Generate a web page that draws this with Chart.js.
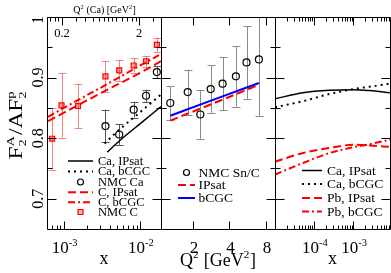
<!DOCTYPE html>
<html>
<head>
<meta charset="utf-8">
<title>F2A / A F2p</title>
<script src="https://cdn.jsdelivr.net/npm/chart.js@4.4.1/dist/chart.umd.min.js"></script>
<style>
  html, body { margin: 0; padding: 0; background: #ffffff; }
  #plot { position: relative; width: 391px; height: 273px; overflow: hidden; }
  #plot canvas { position: absolute; left: 0; top: 0; }
</style>
</head>
<body>
<div id="plot">
  <canvas id="panelX" width="391" height="273"></canvas>
  <canvas id="panelQ" width="391" height="273"></canvas>
  <canvas id="panelLow" width="391" height="273"></canvas>
</div>
<script>
(function () {
    'use strict';

    // ---- left panel: ratio vs x, NMC C and Ca ----
    const cNmcX = [7.0e-4, 9.3e-4, 1.53e-3, 3.5e-3, 5.3e-3, 8.2e-3, 0.0119, 0.0165];
    const cNmcRatio = [0.799, 0.854, 0.853, 0.902, 0.912, 0.920, 0.927, 0.954];
    const cNmcErr = [0.051, 0.053, 0.037, 0.025, 0.017, 0.012, 0.009, 0.012];
    const caNmcX = [3.5e-3, 5.3e-3, 8.2e-3, 0.0119, 0.0165];
    const caNmcRatio = [0.820, 0.806, 0.847, 0.870, 0.909];
    const caNmcErr = [0.027, 0.017, 0.013, 0.010, 0.010];

    const cCurveX = [6.2e-4, 1e-3, 3e-3, 1e-2, 1.87e-2];
    const cIpsat = [0.828, 0.842, 0.874, 0.908, 0.927];
    const cBcgc = [0.835, 0.850, 0.883, 0.920, 0.939];
    const caIpsatX = [3.7e-3, 5.5e-3, 1e-2, 1.87e-2];
    const caIpsat = [0.777, 0.797, 0.824, 0.852];
    const caBcgcX = [3.4e-3, 5e-3, 1e-2, 1.87e-2];
    const caBcgc = [0.791, 0.811, 0.843, 0.872];

    // ---- middle panel: ratio vs Q^2, NMC Sn/C ----
    const snQ2 = [1.30, 1.81, 2.30, 2.80, 3.51, 4.52, 5.53, 7.0];
    const snRatio = [0.858, 0.876, 0.839, 0.881, 0.890, 0.902, 0.925, 0.930];
    const snErr = [0.028, 0.037, 0.040, 0.039, 0.044, 0.050, 0.060, 0.093];
    const snCurveQ2 = [1.3, 3.0, 7.0];
    const snIpsat = [0.829, 0.858, 0.888];
    const snBcgc = [0.837, 0.864, 0.891];

    // ---- right panel: small x predictions, Ca and Pb ----
    const lowX = [1e-5, 5.2e-5, 2.5e-4, 1e-3, 2.6e-3, 8.6e-3];
    const caIpsatLow = [0.865, 0.875, 0.879, 0.880, 0.8785, 0.875];
    const caBcgcLow = [0.851, 0.861, 0.873, 0.881, 0.885, 0.890];
    const pbIpsatLow = [0.761, 0.7755, 0.784, 0.789, 0.788, 0.7855];
    const pbBcgcLow = [0.740, 0.759, 0.7755, 0.785, 0.790, 0.7975];

    // ---- ticks ----
    const yMajor = [0.7, 0.8, 0.9, 1.0];
    const yMinor = [0.75, 0.85, 0.95];
    const yTickText = ['0.7', '0.8', '0.9', '1'];
    const xMajorA = [1e-3, 1e-2];
    const xExpA = ['-3', '-2'];
    const xMinorA = [7e-4, 8e-4, 9e-4, 2e-3, 3e-3, 4e-3, 5e-3, 6e-3, 7e-3, 8e-3, 9e-3];
    const q2TopMajor = [0.2, 2];
    const q2TopText = ['0.2', '2'];
    const q2TopMinor = [0.14, 0.16, 0.18, 0.3, 0.4, 0.5, 0.6, 0.7, 0.8, 0.9, 1.0, 1.2, 1.4, 1.6, 1.8, 3];
    const q2PerX = 206;   // Q^2(Ca) that goes with a given x on the top axis
    const q2Major = [2, 4, 8];
    const q2Text = ['2', '4', '8'];
    const xMajorC = [1e-4, 1e-3];
    const xExpC = ['-4', '-3'];
    const xMinorC = [2e-5, 3e-5, 4e-5, 5e-5, 6e-5, 7e-5, 8e-5, 9e-5,
        2e-4, 3e-4, 4e-4, 5e-4, 6e-4, 7e-4, 8e-4, 9e-4,
        2e-3, 3e-3, 4e-3, 5e-3, 6e-3, 7e-3, 8e-3];

    const W = 391, H = 273;
    const SERIF = '"Liberation Serif", "DejaVu Serif", serif';
    const RED = '#ff0000';

    const solidBlack = { color: '#000000', width: 1.5, dash: [] };
    const dotBlack = { color: '#000000', width: 2, dash: [2, 4] };
    const dashRed = { color: RED, width: 2, dash: [8, 4] };
    const dashDotRed = { color: RED, width: 2, dash: [7, 3, 2, 3] };
    const solidBlue = { color: '#0000ff', width: 2, dash: [] };

    function pts(xs, ys) {
        return xs.map(function (x, i) { return { x: x, y: ys[i] }; });
    }

    function curveSet(label, xs, ys, st) {
        return {
            label: label,
            data: pts(xs, ys),
            showLine: true,
            borderColor: st.color,
            borderWidth: st.width,
            borderDash: st.dash,
            pointRadius: 0,
            fill: false,
            cubicInterpolationMode: 'monotone',
            clip: 0
        };
    }

    function nmcSet(label, xs, ys, errs, style, edge, face, barColor) {
        return {
            label: label,
            data: pts(xs, ys),
            showLine: false,
            pointStyle: style,
            pointRadius: 3.5,
            pointBorderColor: edge,
            pointBackgroundColor: face,
            pointBorderWidth: 1.2,
            errorBars: errs,
            barColor: barColor
        };
    }

    // text with super/subscripts: plain strings, or {sup, sub}
    function segWidth(ctx, s, size) {
        if (typeof s === 'string') {
            ctx.font = size + 'px ' + SERIF;
            return ctx.measureText(s).width;
        }
        ctx.font = (size * 0.62) + 'px ' + SERIF;
        const a = s.sup ? ctx.measureText(s.sup).width : 0;
        const b = s.sub ? ctx.measureText(s.sub).width : 0;
        return Math.max(a, b) + size * 0.04;
    }

    function drawRich(ctx, segs, x, y, size, align) {
        let total = 0;
        segs.forEach(function (s) { total += segWidth(ctx, s, size); });
        let cx = align === 'center' ? x - total / 2 : x;
        ctx.textAlign = 'left';
        ctx.textBaseline = 'alphabetic';
        segs.forEach(function (s) {
            const w = segWidth(ctx, s, size);
            if (typeof s === 'string') {
                ctx.font = size + 'px ' + SERIF;
                ctx.fillText(s, cx, y);
            } else {
                ctx.font = (size * 0.62) + 'px ' + SERIF;
                if (s.sup) ctx.fillText(s.sup, cx, y - size * 0.42);
                if (s.sub) ctx.fillText(s.sub, cx, y + size * 0.24);
            }
            cx += w;
        });
    }

    function drawErrorBars(chart) {
        const ctx = chart.ctx, a = chart.chartArea, ys = chart.scales.y;
        ctx.save();
        ctx.beginPath();
        ctx.rect(a.left, a.top, a.right - a.left, a.bottom - a.top);
        ctx.clip();
        chart.data.datasets.forEach(function (ds, i) {
            if (!ds.errorBars) return;
            const meta = chart.getDatasetMeta(i);
            ctx.strokeStyle = ds.barColor;
            ctx.lineWidth = 1;
            meta.data.forEach(function (pt, j) {
                const v = ds.data[j].y, e = ds.errorBars[j];
                const top = ys.getPixelForValue(v + e), bot = ys.getPixelForValue(v - e);
                const x = Math.round(pt.x) + 0.5;
                ctx.beginPath();
                ctx.moveTo(x, top); ctx.lineTo(x, bot);
                ctx.moveTo(x - 4, Math.round(top) + 0.5); ctx.lineTo(x + 4, Math.round(top) + 0.5);
                ctx.moveTo(x - 4, Math.round(bot) + 0.5); ctx.lineTo(x + 4, Math.round(bot) + 0.5);
                ctx.stroke();
            });
        });
        ctx.restore();
    }

    function drawFrame(chart, cfg) {
        const ctx = chart.ctx, a = chart.chartArea;
        const xs = chart.scales.x, ys = chart.scales.y, ts = chart.scales[cfg.topScale];
        const L = Math.round(a.left) + 0.5, R = Math.round(a.right) + 0.5;
        const T = Math.round(a.top) + 0.5, B = Math.round(a.bottom) + 0.5;
        ctx.save();
        ctx.strokeStyle = '#000000';
        ctx.lineWidth = 1;
        ctx.setLineDash([]);
        ctx.beginPath();
        ctx.rect(L, T, R - L, B - T);
        function xTick(scale, v, len, atTop) {
            const x = Math.round(scale.getPixelForValue(v)) + 0.5;
            if (x <= L || x >= R) return;
            if (atTop) { ctx.moveTo(x, T); ctx.lineTo(x, T + len); }
            else { ctx.moveTo(x, B); ctx.lineTo(x, B - len); }
        }
        function yTick(v, len) {
            const y = Math.round(ys.getPixelForValue(v)) + 0.5;
            ctx.moveTo(L, y); ctx.lineTo(L + len, y);
            ctx.moveTo(R, y); ctx.lineTo(R - len, y);
        }
        cfg.xMajor.forEach(function (v) { xTick(xs, v, 8, false); });
        cfg.xMinor.forEach(function (v) { xTick(xs, v, 4, false); });
        cfg.topMajor.forEach(function (v) { xTick(ts, v, 8, true); });
        cfg.topMinor.forEach(function (v) { xTick(ts, v, 4, true); });
        yMajor.forEach(function (v) { yTick(v, 9); });
        yMinor.forEach(function (v) { yTick(v, 5); });
        ctx.stroke();

        // tick labels and axis title under the panel
        ctx.fillStyle = '#000000';
        cfg.xLabels.forEach(function (lab) {
            drawRich(ctx, lab.segs, xs.getPixelForValue(lab.v) + 1, 253, 17, 'center');
        });
        drawRich(ctx, cfg.title, (a.left + a.right) / 2, cfg.titleY, cfg.titleSize, 'center');
        ctx.restore();
    }

    function drawKey(chart, key) {
        const ctx = chart.ctx;
        ctx.save();
        key.rows.forEach(function (row, i) {
            const y = key.y[i];
            const mid = (key.x0 + key.x1) / 2;
            ctx.setLineDash([]);
            if (row.line) {
                ctx.strokeStyle = row.line.color;
                ctx.lineWidth = row.line.width;
                ctx.setLineDash(row.line.dash);
                ctx.beginPath();
                ctx.moveTo(key.x0, y); ctx.lineTo(key.x1, y);
                ctx.stroke();
            } else if (row.mark === 'circle') {
                ctx.strokeStyle = '#000000';
                ctx.lineWidth = 1.2;
                ctx.beginPath();
                ctx.arc(mid, y, 3, 0, Math.PI * 2);
                ctx.stroke();
            } else {
                ctx.strokeStyle = RED;
                ctx.fillStyle = 'rgba(255,0,0,0.3)';
                ctx.lineWidth = 1.2;
                ctx.beginPath();
                ctx.rect(mid - 2.5, y - 2.5, 5, 5);
                ctx.fill();
                ctx.stroke();
            }
            ctx.fillStyle = '#000000';
            ctx.font = key.size + 'px ' + SERIF;
            ctx.textAlign = 'left';
            ctx.textBaseline = 'middle';
            ctx.fillText(row.label, key.tx, y + 0.5);
        });
        ctx.restore();
    }

    function decor(cfg) {
        return {
            id: 'decor',
            beforeDatasetsDraw: function (chart) { drawErrorBars(chart); },
            afterDraw: function (chart) {
                drawFrame(chart, cfg);
                drawKey(chart, cfg.key);
                if (cfg.extra) cfg.extra(chart);
            }
        };
    }

    function makePanel(canvasId, box, scales, datasets, cfg) {
        const canvas = document.getElementById(canvasId);
        return new Chart(canvas.getContext('2d'), {
            type: 'scatter',
            data: { datasets: datasets },
            options: {
                responsive: false,
                animation: false,
                events: [],
                layout: {
                    padding: { left: box.left, right: W - box.right, top: box.top, bottom: H - box.bottom }
                },
                plugins: {
                    legend: { display: false },
                    tooltip: { enabled: false }
                },
                scales: scales
            },
            plugins: [decor(cfg)]
        });
    }

    function yScale() {
        return { type: 'linear', min: 0.65, max: 1.0, display: false };
    }

    // left y axis labels and the top Q^2(Ca) axis text, drawn on the first panel
    function leftExtras(chart) {
        const ctx = chart.ctx, a = chart.chartArea, ys = chart.scales.y, ts = chart.scales.xTop;
        ctx.save();
        ctx.fillStyle = '#000000';
        yMajor.forEach(function (v, i) {
            const py = Math.max(ys.getPixelForValue(v), a.top + 3);
            ctx.save();
            ctx.translate(37, py);
            ctx.rotate(-Math.PI / 2);
            ctx.font = '16px ' + SERIF;
            ctx.textAlign = 'center';
            ctx.textBaseline = 'alphabetic';
            ctx.fillText(yTickText[i], 0, 5.5);
            ctx.restore();
        });
        ctx.save();
        ctx.translate(22, 125);
        ctx.rotate(-Math.PI / 2);
        ctx.scale(1.3, 1);
        drawRich(ctx, ['F', { sub: '2', sup: 'A' }, '/AF', { sub: '2', sup: 'p' }], 0, 0, 18, 'center');
        ctx.restore();

        drawRich(ctx, ['Q', { sup: '2' }, ' (Ca) [GeV', { sup: '2' }, ']'], 104.5, 13, 10, 'center');
        q2TopMajor.forEach(function (v, i) {
            drawRich(ctx, [q2TopText[i]], ts.getPixelForValue(v), 37, 12.5, 'center');
        });
        ctx.restore();
    }

    const xMinA = 6.2e-4, xMaxA = 1.87e-2;

    makePanel('panelX', { left: 47, right: 161, top: 17, bottom: 229 }, {
        x: { type: 'logarithmic', min: xMinA, max: xMaxA, display: false },
        xTop: { type: 'logarithmic', axis: 'x', position: 'top', min: xMinA * q2PerX, max: xMaxA * q2PerX, display: false },
        y: yScale()
    }, [
        nmcSet('NMC C', cNmcX, cNmcRatio, cNmcErr, 'rect', RED, 'rgba(255,0,0,0.35)', 'rgba(240,90,90,0.75)'),
        nmcSet('NMC Ca', caNmcX, caNmcRatio, caNmcErr, 'circle', '#000000', 'rgba(0,0,0,0)', '#555555'),
        curveSet('C, bCGC', cCurveX, cBcgc, dashDotRed),
        curveSet('C, IPsat', cCurveX, cIpsat, dashRed),
        curveSet('Ca, bCGC', caBcgcX, caBcgc, dotBlack),
        curveSet('Ca, IPsat', caIpsatX, caIpsat, solidBlack)
    ], {
        topScale: 'xTop',
        xMajor: xMajorA, xMinor: xMinorA,
        topMajor: q2TopMajor, topMinor: q2TopMinor,
        xLabels: xMajorA.map(function (v, i) { return { v: v, segs: ['10', { sup: xExpA[i] }] }; }),
        title: ['x'], titleY: 264, titleSize: 18,
        key: {
            x0: 68, x1: 93, tx: 98, size: 12.5,
            y: [161, 171.5, 182, 192.3, 202.3, 212],
            rows: [
                { label: 'Ca, IPsat', line: solidBlack },
                { label: 'Ca, bCGC', line: dotBlack },
                { label: 'NMC Ca', mark: 'circle' },
                { label: 'C, IPsat', line: dashRed },
                { label: 'C, bCGC', line: dashDotRed },
                { label: 'NMC C', mark: 'square' }
            ]
        },
        extra: leftExtras
    });

    makePanel('panelQ', { left: 161, right: 275, top: 17, bottom: 229 }, {
        x: { type: 'logarithmic', min: 1.09, max: 9.5, display: false },
        y: yScale()
    }, [
        nmcSet('NMC Sn/C', snQ2, snRatio, snErr, 'circle', '#000000', 'rgba(0,0,0,0)', '#8a8a8a'),
        curveSet('bCGC', snCurveQ2, snBcgc, solidBlue),
        curveSet('IPsat', snCurveQ2, snIpsat, dashRed)
    ], {
        topScale: 'x',
        xMajor: q2Major, xMinor: [],
        topMajor: q2Major, topMinor: [],
        xLabels: q2Major.map(function (v, i) { return { v: v, segs: [q2Text[i]] }; }),
        title: ['Q', { sup: '2' }, ' [GeV', { sup: '2' }, ']'], titleY: 266, titleSize: 18,
        key: {
            x0: 178, x1: 195, tx: 198.5, size: 13.5,
            y: [172.5, 185, 198],
            rows: [
                { label: 'NMC Sn/C', mark: 'circle' },
                { label: 'IPsat', line: dashRed },
                { label: 'bCGC', line: solidBlue }
            ]
        }
    });

    makePanel('panelLow', { left: 275, right: 390, top: 17, bottom: 229 }, {
        x: { type: 'logarithmic', min: 1e-5, max: 8.6e-3, display: false },
        y: yScale()
    }, [
        curveSet('Ca, IPsat', lowX, caIpsatLow, solidBlack),
        curveSet('Ca, bCGC', lowX, caBcgcLow, dotBlack),
        curveSet('Pb, IPsat', lowX, pbIpsatLow, dashRed),
        curveSet('Pb, bCGC', lowX, pbBcgcLow, dashDotRed)
    ], {
        topScale: 'x',
        xMajor: xMajorC, xMinor: xMinorC,
        topMajor: xMajorC, topMinor: xMinorC,
        xLabels: xMajorC.map(function (v, i) { return { v: v, segs: ['10', { sup: xExpC[i] }] }; }),
        title: ['x'], titleY: 264, titleSize: 18,
        key: {
            x0: 302, x1: 322, tx: 327, size: 13.5,
            y: [170.5, 184, 198, 211.5],
            rows: [
                { label: 'Ca, IPsat', line: solidBlack },
                { label: 'Ca, bCGC', line: dotBlack },
                { label: 'Pb, IPsat', line: dashRed },
                { label: 'Pb, bCGC', line: dashDotRed }
            ]
        }
    });
})();
</script>
</body>
</html>
